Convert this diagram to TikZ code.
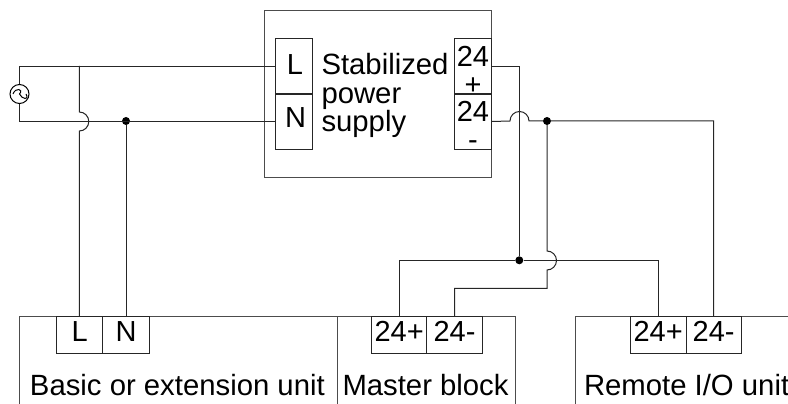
\documentclass[tikz,border=0pt]{standalone}
\usepackage{fontspec}
\setmainfont{Liberation Sans}
\tikzset{
  x=1pt,y=-1pt,
  wire/.style={line width=1pt,draw=black!85,line join=miter},
  outline/.style={line width=1pt,draw=black!70},
  term/.style={draw=black!85,line width=0.9pt,rectangle,inner sep=0pt,outer sep=0pt,font=\fontsize{29}{28}\selectfont,align=center},
  bottomterm/.style={term,anchor=north west,minimum height=37pt,text depth=6.4pt},
  caption/.style={inner sep=0pt,outer sep=0pt,anchor=base west,font=\fontsize{29.3}{28.8}\selectfont},
  dot/.style={circle,fill=black,inner sep=0pt,minimum size=8pt},
}
\newcommand{\tstrut}{\rule{0pt}{28pt}}
\begin{document}
\begin{tikzpicture}
\useasboundingbox (0,0) rectangle (788,404);
% power supply
\node[rectangle,draw=black!70,line width=1pt,minimum width=227pt,minimum height=166.3pt,inner sep=0pt] (psu) at (378.2,93.85) {};
\node[term,minimum width=37.3pt,minimum height=55.7pt,text depth=3pt] (pL) at (293.65,66.15) {\hspace*{2.6pt}L};
\node[term,minimum width=37.3pt,minimum height=55.7pt,text depth=7.2pt] (pN) at (293.65,121.5) {\hspace*{4pt}N};
\node[term,minimum width=37.4pt,minimum height=55.7pt] (pP) at (473,66.15) {\tstrut 24\\+};
\node[term,minimum width=37.4pt,minimum height=55.7pt] (pM) at (473,121.5) {\tstrut 24\\-};
\node[caption,anchor=north west,align=left] (ptext) at (321.5,53) {Stabilized\\power\\supply};
% source
\node[circle,draw=black,line width=1pt,minimum size=19pt,inner sep=0pt] (src) at (19.5,94) {};
\draw[line width=1pt] ([xshift=-6.5pt]src.center) .. controls +(2.5,-7) and +(4.5,-5) .. (src.center) .. controls +(2,5) and +(4,7) .. ([xshift=6.5pt]src.center);
% bottom units
\coordinate (uTL) at (19.3,316);
\coordinate (uBL) at (19.3,404);
\coordinate (uTR) at (515,316);
\coordinate (uBR) at (515,404);
\coordinate (dT) at (337.7,316);
\coordinate (dB) at (337.7,404);
\coordinate (rBL) at (575.7,404);
\coordinate (rTL) at (575.7,316);
\coordinate (rTR) at (788,316);
\draw[outline] (uBL) -- (uTL) -- (uTR) -- (uBR);
\draw[outline] (dT) -- (dB);
\draw[outline] (rBL) -- (rTL) -- (rTR);
% bottom terminals
\node[bottomterm,minimum width=46pt] (bL) at (56.7,316) {L};
\node[bottomterm,minimum width=46.6pt] (bN) at (102.7,316) {N};
\node[bottomterm,minimum width=55pt] (mP) at (371.7,316) {24+};
\node[bottomterm,minimum width=55.6pt] (mM) at (426.7,316) {24-};
\node[bottomterm,minimum width=55.7pt] (rP) at (630.3,316) {24+};
\node[bottomterm,minimum width=55.3pt] (rM) at (686,316) {24-};
\node[caption] (t1) at (30,395.7) {Basic or extension unit};
\node[caption] (t2) at (342.5,395.7) {Master block};
\node[caption] (t3) at (584,395.7) {Remote I/O unit};
% junctions
\node[dot] (j1) at (126,121) {};
\node[dot] (j2) at (547,121) {};
\node[dot] (j3) at (519.3,260.3) {};
% jump coordinates
\coordinate (k1a) at (79.3,112);
\coordinate (k1b) at (79.3,131);
\coordinate (k2a) at (510,121);
\coordinate (k2b) at (529,121);
\coordinate (k3a) at (547,251);
\coordinate (k3b) at (547,270);
\coordinate (c1) at (79.3,66);
\coordinate (c2) at (547,288.3);
% wires
\draw[wire] (src.north) |- (pL.west);
\draw[wire] (src.south) |- (pN.west);
\draw[wire] (c1) -- (k1a) arc[start angle=90,end angle=-90,radius=9.5pt] -- (k1b) -- (bL.north -| c1);
\draw[wire] (j1) -- (bN.north -| j1);
\draw[wire] (pP.east) -| (j3);
\draw[wire] (pM.east) -- (k2a) arc[start angle=180,end angle=0,radius=9.5pt] -- (k2b) -- (j2) -- (j2 -| rM.north) -- (rM.north);
\draw[wire] (j2) -- (k3a) arc[start angle=90,end angle=-90,radius=9.5pt] -- (k3b) -- (c2) -| (mM.north);
\draw[wire] (mP.north) |- (j3) -| (rP.north);
\end{tikzpicture}
\end{document}
